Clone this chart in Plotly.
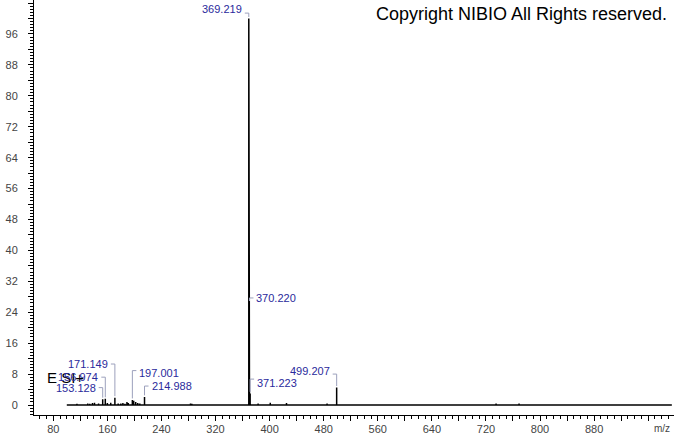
import plotly.graph_objects as go

# ---- data ----
peak_mz = [115.0, 131.0, 134.0, 138.0, 141.0, 147.0, 153.128, 156.974, 160.0, 165.0,
           171.149, 176.0, 180.0, 183.0, 186.0, 189.0, 191.0, 197.001, 199.0, 202.0,
           205.0, 208.0, 214.988, 283.0, 285.0, 369.219, 370.220, 371.223, 383.0,
           401.0, 425.0, 485.0, 499.207, 735.0, 769.0]
peak_int = [0.3, 0.4, 0.3, 0.5, 0.6, 0.4, 1.5, 1.6, 0.5, 0.6,
            1.9, 0.4, 0.4, 0.5, 0.3, 0.8, 0.5, 1.3, 1.1, 0.8,
            0.5, 0.4, 2.1, 0.4, 0.3, 100.0, 26.5, 3.0, 0.4,
            0.6, 0.5, 0.4, 4.5, 0.4, 0.4]
scan_start = 100.0
scan_end = 995.0

label_mz = [369.219, 370.220, 371.223, 499.207, 214.988, 197.001, 171.149, 156.974, 153.128]
label_text = ["369.219", "370.220", "371.223", "499.207", "214.988", "197.001", "171.149", "156.974", "153.128"]

x_tick_vals = list(range(40, 1000, 40))
x_tick_text = [str(v) if v % 80 == 0 and v < 960 else "" for v in x_tick_vals]
y_tick_vals = list(range(0, 105, 4))
y_tick_text = [str(v) if v % 8 == 0 else "" for v in y_tick_vals]

# ---- label layout (positions/styles) ----
label_level = [101.4, 27.7, 6.7, 8.0, 4.9, 8.9, 10.6, 7.2, 4.5]   # corner height (intensity units)
label_side = ["left", "right", "right", "left", "right", "right", "left", "left", "left"]
label_dy = [4, 0, -4, 3, 0, -2, 0, 0, 0]

FONT = "Liberation Sans, Arial, sans-serif"
TEXT_BLUE = "#2a2a9c"
LEAD = "#9ca0bc"

# stick spectrum
xs, ys = [scan_start], [0.0]
for m, h in sorted(zip(peak_mz, peak_int)):
    xs += [m, m, m]
    ys += [0.0, h, 0.0]
xs.append(scan_end)
ys.append(0.0)

fig = go.Figure()
fig.add_trace(go.Scatter(x=xs, y=ys, mode="lines",
                         line=dict(color="black", width=1.5),
                         hoverinfo="skip", showlegend=False))

intens = dict(zip(peak_mz, peak_int))
shapes = []
annos = []

annos.append(dict(x=(45 - 34) / 640, y=(415 - 377) / 415, xref="paper", yref="paper",
                  text="E SI+", showarrow=False, xanchor="left", yanchor="middle",
                  font=dict(family=FONT, size=15, color="black")))

for m, t, lv, side, dy in zip(label_mz, label_text, label_level, label_side, label_dy):
    h = intens[m]
    sgn = -1 if side == "left" else 1
    shapes.append(dict(type="line", xref="x", yref="y", xsizemode="pixel", xanchor=m,
                       x0=0, x1=0, y0=h + 0.4, y1=lv, line=dict(color=LEAD, width=1)))
    shapes.append(dict(type="line", xref="x", yref="y", xsizemode="pixel", xanchor=m,
                       x0=0, x1=sgn * 4, y0=lv, y1=lv, line=dict(color=LEAD, width=1)))
    annos.append(dict(x=m, y=lv, xref="x", yref="y", text=t, showarrow=False,
                      xanchor="right" if side == "left" else "left", yanchor="middle",
                      xshift=sgn * 5, yshift=dy,
                      font=dict(family=FONT, size=11, color=TEXT_BLUE)))

annos.append(dict(x=(669 - 34) / 640, y=(415 - 14) / 415, xref="paper", yref="paper",
                  text="Copyright NIBIO All Rights reserved.", showarrow=False,
                  xanchor="right", yanchor="middle",
                  font=dict(family=FONT, size=18, color="black")))
annos.append(dict(x=(662 - 34) / 640, y=-(428 - 415) / 415, xref="paper", yref="paper",
                  text="m/z", showarrow=False, xanchor="center", yanchor="middle",
                  font=dict(family=FONT, size=10, color="#444")))

fig.update_layout(
    width=674, height=434,
    margin=dict(l=34, r=0, t=0, b=19),
    paper_bgcolor="white", plot_bgcolor="white",
    shapes=shapes, annotations=annos,
    xaxis=dict(range=[51.5, 998.2], showline=True, linecolor="black", linewidth=1,
               ticks="outside", ticklen=5, tickcolor="black", tickwidth=1,
               tickvals=x_tick_vals, ticktext=x_tick_text,
               minor=dict(ticks="outside", ticklen=3, dtick=10, tick0=0, tickcolor="black"),
               showgrid=False, zeroline=False, automargin=False, ticklabelstandoff=-1,
               tickfont=dict(family=FONT, size=11, color="#444")),
    yaxis=dict(range=[-2.587, 104.79], showline=True, linecolor="black", linewidth=1,
               ticks="outside", ticklen=5, tickcolor="black", tickwidth=1,
               tickvals=y_tick_vals, ticktext=y_tick_text,
               minor=dict(ticks="outside", ticklen=3, dtick=0.8, tick0=0, tickcolor="black"),
               showgrid=False, zeroline=False, ticklabelstandoff=8, automargin=False,
               tickfont=dict(family=FONT, size=11, color="#444")),
)

fig.write_html("out.html", config={"displayModeBar": False},
               post_script="document.body.style.margin='0';document.body.style.padding='0';")
